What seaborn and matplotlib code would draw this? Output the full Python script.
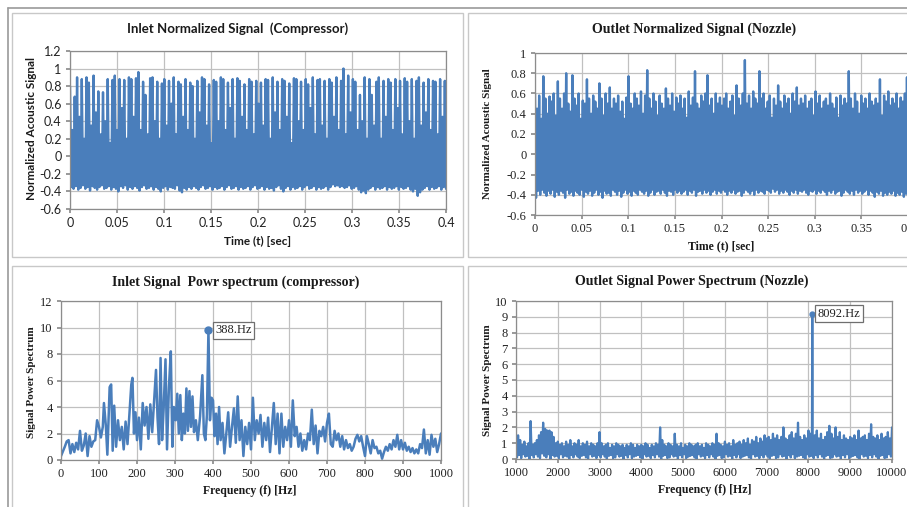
import numpy as np
import pandas as pd
import matplotlib
matplotlib.use("Agg")
import matplotlib.pyplot as plt
import seaborn as sns
from matplotlib.patches import Rectangle
from matplotlib.lines import Line2D
from matplotlib.ticker import FuncFormatter

# ---------------- data ----------------
# Inlet normalized signal: successive maxima / minima over 0..0.4 s
inlet_tops = [
    0.80, 0.30, 0.68, 0.90, 0.45, 0.88, 0.20, 0.90, 0.84, 0.35,
    0.92, 0.50, 0.74, 0.25, 0.73, 0.40, 0.88, 0.15, 0.87, 0.92,
    0.30, 0.88, 0.55, 0.87, 0.20, 0.90, 0.88, 0.45, 0.89, 0.96,
    0.30, 0.85, 0.70, 0.25, 0.89, 0.90, 0.40, 0.85, 0.20, 0.83,
    0.88, 0.35, 0.86, 0.60, 0.90, 0.25, 0.85, 0.82, 0.45, 0.88,
    0.30, 0.84, 0.80, 0.20, 0.86, 0.50, 0.90, 0.88, 0.35, 0.82,
    0.15, 0.87, 0.85, 0.40, 0.90, 0.88, 0.30, 0.84, 0.55, 0.88,
    0.20, 0.89, 0.86, 0.45, 0.82, 0.30, 0.88, 0.85, 0.25, 0.86,
    0.60, 0.84, 0.35, 0.88, 0.87, 0.20, 0.90, 0.50, 0.85, 0.30,
    0.88, 0.86, 0.45, 0.83, 0.15, 0.89, 0.88, 0.40, 0.85, 0.30,
    0.88, 0.82, 0.55, 0.90, 0.25, 0.87, 0.88, 0.35, 0.86, 0.20,
    0.88, 0.84, 0.45, 0.90, 0.30, 0.86, 1.00, 0.25, 0.92, 0.50,
    0.88, 0.85, 0.30, 0.70, 0.40, 0.90, 0.20, 0.88, 0.70, 0.35,
    0.85, 0.90, 0.20, 0.86, 0.45, 0.88, 0.84, 0.30, 0.88, 0.55,
    0.86, 0.25, 0.89, 0.85, 0.40, 0.88, 0.20, 0.86, 0.90, 0.35,
    0.84, 0.50, 0.88, 0.30, 0.86, 0.85, 0.25, 0.88, 0.45, 0.86,
]
inlet_bottoms = [
    -0.35, -0.37, -0.34, -0.38, -0.36, -0.33, -0.37, -0.35, -0.39, -0.34,
    -0.36, -0.38, -0.35, -0.33, -0.37, -0.36, -0.34, -0.38, -0.35, -0.37,
    -0.40, -0.34, -0.36, -0.33, -0.38, -0.35, -0.37, -0.34, -0.36, -0.39,
    -0.35, -0.33, -0.37, -0.36, -0.34, -0.38, -0.35, -0.37, -0.40, -0.36,
    -0.34, -0.38, -0.35, -0.36, -0.37, -0.33, -0.39, -0.41, -0.36, -0.38,
    -0.35, -0.37, -0.34, -0.36, -0.38, -0.35, -0.33, -0.37, -0.36, -0.34,
    -0.38, -0.35, -0.37, -0.36, -0.34, -0.38, -0.35, -0.33, -0.37, -0.36,
    -0.34, -0.38, -0.35, -0.37, -0.36, -0.34, -0.38, -0.35, -0.33, -0.37,
    -0.36, -0.34, -0.38, -0.35, -0.37, -0.36, -0.39, -0.35, -0.33, -0.37,
    -0.40, -0.36, -0.34, -0.38, -0.35, -0.37, -0.36, -0.34, -0.38, -0.35,
    -0.33, -0.37, -0.36, -0.34, -0.38, -0.35, -0.37, -0.36, -0.34, -0.38,
    -0.35, -0.32, -0.34, -0.33, -0.35, -0.34, -0.36, -0.35, -0.33, -0.37,
    -0.36, -0.34, -0.38, -0.41, -0.39, -0.42, -0.38, -0.36, -0.34, -0.38,
    -0.35, -0.37, -0.36, -0.34, -0.38, -0.35, -0.37, -0.36, -0.34, -0.38,
    -0.35, -0.37, -0.36, -0.34, -0.38, -0.40, -0.37, -0.45, -0.41, -0.38,
    -0.36, -0.34, -0.38, -0.35, -0.37, -0.36, -0.34, -0.38, -0.35, -0.37,
]

# Outlet normalized signal: successive maxima / minima over 0..0.4 s
outlet_tops = [
    0.60, 0.45, 0.58, 0.35, 0.77, 0.55, 0.40, 0.57, 0.52, 0.60,
    0.38, 0.72, 0.55, 0.45, 0.60, 0.80, 0.50, 0.42, 0.78, 0.55,
    0.48, 0.60, 0.35, 0.53, 0.50, 0.74, 0.55, 0.40, 0.58, 0.52,
    0.45, 0.70, 0.55, 0.38, 0.60, 0.50, 0.66, 0.45, 0.55, 0.50,
    0.58, 0.42, 0.52, 0.35, 0.56, 0.77, 0.50, 0.45, 0.60, 0.55,
    0.48, 0.62, 0.40, 0.58, 0.83, 0.55, 0.45, 0.60, 0.52, 0.38,
    0.58, 0.50, 0.45, 0.65, 0.55, 0.48, 0.60, 0.42, 0.56, 0.50,
    0.58, 0.45, 0.55, 0.36, 0.62, 0.48, 0.56, 0.82, 0.50, 0.45,
    0.58, 0.52, 0.60, 0.78, 0.48, 0.55, 0.40, 0.60, 0.50, 0.56,
    0.48, 0.55, 0.60, 0.45, 0.52, 0.58, 0.38, 0.68, 0.55, 0.48,
    0.60, 0.93, 0.50, 0.58, 0.45, 0.62, 0.55, 0.50, 0.82, 0.55,
    0.60, 0.45, 0.52, 0.58, 0.36, 0.55, 0.48, 0.68, 0.52, 0.45,
    0.58, 0.50, 0.55, 0.40, 0.60, 0.52, 0.66, 0.48, 0.55, 0.50,
    0.58, 0.45, 0.52, 0.55, 0.38, 0.62, 0.50, 0.58, 0.45, 0.52,
    0.55, 0.48, 0.60, 0.50, 0.45, 0.56, 0.36, 0.58, 0.48, 0.55,
    0.50, 0.82, 0.55, 0.45, 0.60, 0.52, 0.40, 0.58, 0.50, 0.55,
    0.45, 0.60, 0.52, 0.48, 0.55, 0.50, 0.74, 0.38, 0.58, 0.52,
    0.62, 0.48, 0.55, 0.50, 0.60, 0.45, 0.56, 0.52, 0.60, 0.76,
]
outlet_bottoms = [
    -0.43, -0.36, -0.40, -0.35, -0.38, -0.41, -0.36, -0.39, -0.35, -0.42,
    -0.37, -0.40, -0.36, -0.38, -0.43, -0.35, -0.39, -0.37, -0.41, -0.36,
    -0.38, -0.40, -0.35, -0.42, -0.37, -0.39, -0.36, -0.41, -0.38, -0.35,
    -0.40, -0.37, -0.43, -0.36, -0.39, -0.38, -0.41, -0.35, -0.37, -0.40,
    -0.36, -0.42, -0.38, -0.35, -0.39, -0.37, -0.41, -0.36, -0.38, -0.40,
    -0.35, -0.37, -0.39, -0.36, -0.41, -0.38, -0.35, -0.40, -0.37, -0.36,
    -0.39, -0.35, -0.38, -0.41, -0.36, -0.37, -0.40, -0.35, -0.38, -0.36,
    -0.39, -0.37, -0.35, -0.40, -0.36, -0.38, -0.35, -0.41, -0.37, -0.36,
    -0.39, -0.35, -0.38, -0.36, -0.40, -0.37, -0.35, -0.39, -0.36, -0.38,
    -0.35, -0.37, -0.40, -0.36, -0.38, -0.35, -0.39, -0.37, -0.36, -0.41,
    -0.38, -0.35, -0.37, -0.39, -0.36, -0.40, -0.35, -0.38, -0.36, -0.37,
    -0.39, -0.35, -0.36, -0.38, -0.34, -0.37, -0.35, -0.39, -0.36, -0.38,
    -0.35, -0.37, -0.40, -0.36, -0.38, -0.35, -0.39, -0.36, -0.37, -0.35,
    -0.38, -0.40, -0.36, -0.37, -0.35, -0.39, -0.36, -0.38, -0.35, -0.37,
    -0.40, -0.36, -0.38, -0.35, -0.39, -0.37, -0.36, -0.41, -0.38, -0.35,
    -0.37, -0.39, -0.36, -0.40, -0.35, -0.38, -0.36, -0.39, -0.37, -0.35,
    -0.40, -0.36, -0.38, -0.42, -0.37, -0.39, -0.36, -0.41, -0.38, -0.40,
    -0.37, -0.39, -0.36, -0.41, -0.38, -0.40, -0.37, -0.42, -0.39, -0.41,
]

# Inlet power spectrum (Hz, power)
inlet_freq = [
    0, 10, 15, 20, 25, 30, 35, 40, 45, 50, 55, 60, 65, 70, 75, 80, 85, 90, 95, 100,
    105, 110, 113, 118, 122, 128, 132, 136, 140, 145, 150, 155, 160, 165, 170, 175,
    180, 185, 188, 192, 196, 200, 205, 210, 215, 220, 225, 230, 235, 240, 245, 250,
    254, 258, 262, 266, 270, 275, 279, 284, 289, 293, 297, 302, 306, 310, 314, 318,
    322, 326, 330, 334, 338, 342, 346, 350, 355, 360, 366, 372, 376, 380, 384, 388,
    392, 396, 400, 404, 408, 412, 416, 420, 425, 430, 435, 440, 445, 450, 455, 460,
    465, 470, 475, 480, 485, 490, 495, 500, 505, 510, 515, 520, 525, 530, 535, 540,
    545, 550, 555, 560, 565, 570, 575, 580, 585, 590, 595, 600, 605, 610, 615, 620,
    625, 630, 635, 640, 645, 650, 655, 660, 665, 670, 675, 680, 685, 690, 695, 700,
    705, 710, 715, 720, 725, 730, 735, 740, 745, 750, 755, 760, 765, 770, 775, 780,
    785, 790, 795, 800, 805, 810, 815, 820, 825, 830, 835, 840, 845, 850, 855, 860,
    865, 870, 875, 880, 885, 890, 895, 900, 905, 910, 915, 920, 925, 930, 935, 940,
    945, 950, 955, 960, 965, 970, 975, 980, 985, 990, 995, 1000,
]
inlet_power = [
    0.3, 1.0, 1.4, 1.5, 0.5, 1.2, 0.6, 1.3, 0.8, 2.2, 0.7, 1.1, 2.0, 0.3, 1.8, 1.0, 1.4, 1.5, 3.0, 2.5,
    1.7, 2.5, 4.3, 2.6, 0.4, 5.5, 5.7, 0.7, 4.1, 1.0, 3.0, 1.5, 2.5, 0.8, 2.9, 1.2,
    3.4, 5.7, 6.2, 2.0, 3.6, 1.5, 3.2, 0.8, 4.3, 2.6, 4.0, 1.6, 4.2, 2.1, 4.5, 6.8,
    3.2, 1.2, 7.7, 1.5, 3.8, 7.6, 0.8, 5.5, 8.2, 1.0, 4.0, 3.0, 5.0, 2.0, 4.9, 1.5,
    3.5, 2.0, 5.4, 2.2, 5.2, 2.5, 4.8, 2.1, 3.0, 1.5, 3.3, 6.4, 2.0, 1.5, 3.4, 9.8,
    3.0, 4.7, 4.5, 1.8, 3.5, 1.2, 4.0, 1.5, 2.8, 0.5, 2.0, 3.6, 1.0, 2.5, 3.9, 1.3,
    4.8, 1.5, 3.0, 0.3, 2.5, 1.2, 2.8, 0.8, 4.7, 1.5, 3.0, 2.0, 3.4, 1.0, 2.8, 1.5,
    3.2, 0.6, 2.5, 4.3, 1.2, 3.5, 0.5, 3.5, 1.0, 2.5, 1.5, 3.0, 1.0, 4.5, 1.8, 2.5,
    1.0, 2.0, 0.7, 1.5, 0.8, 2.0, 1.5, 3.8, 1.2, 2.6, 0.5, 2.2, 1.8, 2.5, 1.4, 2.8,
    3.5, 1.2, 1.0, 2.2, 1.5, 2.0, 1.0, 1.8, 0.8, 1.5, 0.9, 1.2, 0.7, 1.0, 1.6, 1.9,
    1.4, 1.8, 1.0, 0.3, 1.8, 1.2, 0.5, 1.5, 0.9, 1.0, 0.5, 0.7, 0.1, 0.6, 1.0, 0.7,
    1.2, 0.8, 1.5, 1.0, 1.9, 0.8, 1.5, 0.8, 1.3, 0.7, 1.0, 0.6, 0.9, 0.5, 0.8, 0.5,
    1.2, 0.9, 2.3, 0.5, 1.5, 0.4, 1.9, 1.0, 1.6, 0.6, 1.2, 2.0,
]
inlet_peak_freq, inlet_peak_power = 388, 9.8

# Outlet power spectrum: maxima on a 50 Hz grid from 1000 Hz, minima in between
outlet_spec_start, outlet_spec_step = 1000, 50
outlet_highs = [
    1.0, 1.5, 1.2, 0.9, 1.1, 0.8, 1.0, 2.4, 0.9, 1.0, 1.2,
    1.5, 1.7, 2.3, 1.9, 1.8, 1.8, 1.7, 1.4, 1.0,
    1.1, 0.9, 1.0, 0.8, 1.1, 0.9, 1.2, 0.8, 1.0, 0.9, 1.2, 0.8, 1.0, 0.9, 1.1, 0.8, 1.0, 0.9, 0.8, 1.0,
    1.7,
    1.0, 0.8, 0.9, 1.0, 0.7, 0.9, 0.8, 1.0, 0.9, 0.8, 0.9, 0.7, 0.9, 0.8, 1.0, 0.9, 0.7, 0.9, 0.8,
    0.9, 0.8, 1.0, 0.9, 0.7, 0.9, 0.8, 1.0, 0.9, 2.0,
    1.2, 0.9, 0.8, 1.0, 0.9, 0.8, 1.6,
    0.9, 0.8, 1.0, 0.7, 0.9, 0.8, 1.0, 0.9, 0.8, 0.9, 1.0, 0.8, 0.9, 0.7, 1.0, 0.9, 0.8, 1.0, 0.9,
    1.6,
    1.0, 0.9, 0.8, 1.1, 0.9, 1.0, 0.8, 1.2, 0.9, 1.0, 1.1, 0.9, 1.2, 1.0, 1.3, 0.9, 1.2, 1.1, 1.4, 1.0, 1.3, 1.1, 1.5,
    1.3, 1.4, 1.2, 1.6, 1.3, 1.5, 1.2, 1.4, 2.0, 1.3, 1.2, 1.5, 1.7, 1.3, 1.6, 2.3, 1.4, 1.2, 1.5, 1.3, 1.8, 1.6,
    2.1, 1.5, 1.8, 1.3, 1.6, 1.2, 1.4, 1.7,
    2.1, 1.6, 1.3, 2.0, 1.4, 1.7, 1.2, 1.5, 1.3, 1.2, 1.4, 1.3, 1.5, 1.2, 1.8, 1.3, 1.4, 1.5, 1.2, 1.6,
    2.2, 1.4, 1.3, 1.5, 1.2, 1.6, 1.3, 1.4, 1.7, 1.3, 2.0,
]
outlet_lows = [
    0.10, 0.25, 0.05, 0.30, 0.15, 0.20, 0.00, 0.25, 0.10, 0.30,
    0.15, 0.05, 0.35, 0.20, 0.10, 0.30, 0.00, 0.25, 0.15, 0.20,
    0.05, 0.30, 0.10, 0.20, 0.15, 0.00, 0.25, 0.10, 0.30, 0.15,
    0.05, 0.20, 0.25, 0.10, 0.00, 0.30, 0.15, 0.20, 0.05, 0.25,
    0.10, 0.30, 0.15, 0.00, 0.20, 0.25, 0.05, 0.10, 0.30, 0.15,
    0.20, 0.00, 0.25, 0.10, 0.30, 0.05, 0.15, 0.20, 0.25, 0.10,
    0.00, 0.30, 0.15, 0.20, 0.05, 0.25, 0.10, 0.30, 0.15, 0.00,
    0.20, 0.25, 0.05, 0.10, 0.30, 0.15, 0.20, 0.00, 0.25, 0.10,
    0.30, 0.05, 0.15, 0.20, 0.25, 0.10, 0.00, 0.30, 0.15, 0.20,
    0.05, 0.25, 0.10, 0.30, 0.15, 0.00, 0.20, 0.25, 0.05, 0.10,
    0.30, 0.15, 0.20, 0.00, 0.25, 0.10, 0.30, 0.05, 0.15, 0.20,
    0.25, 0.10, 0.00, 0.30, 0.15, 0.20, 0.05, 0.25, 0.10, 0.30,
    0.15, 0.00, 0.20, 0.25, 0.05, 0.10, 0.30, 0.15, 0.20, 0.00,
    0.25, 0.10, 0.30, 0.05, 0.15, 0.20, 0.25, 0.10, 0.00, 0.30,
    0.15, 0.20, 0.05, 0.25, 0.10, 0.30, 0.15, 0.00, 0.20, 0.25,
    0.05, 0.10, 0.30, 0.15, 0.20, 0.00, 0.25, 0.10, 0.30, 0.05,
    0.15, 0.20, 0.25, 0.10, 0.00, 0.30, 0.15, 0.20, 0.05, 0.25,
    0.10, 0.30, 0.15, 0.00, 0.20, 0.25, 0.05, 0.10, 0.30, 0.15,
]
outlet_peak_freq, outlet_peak_power = 8092, 9.2

# ---------------- build frames ----------------
def interleave(tops, bottoms, t0, t1):
    vals = []
    for a, b in zip(tops, bottoms):
        vals.extend([a, b])
    t = np.linspace(t0, t1, len(vals))
    return pd.DataFrame({"x": t, "y": vals})

df_in = interleave(inlet_tops, inlet_bottoms, 0.0, 0.4)
df_out = interleave(outlet_tops, outlet_bottoms, 0.0, 0.4)
df_in_spec = pd.DataFrame({"x": inlet_freq, "y": inlet_power})

hi_f = outlet_spec_start + outlet_spec_step * np.arange(len(outlet_highs))
lo_f = outlet_spec_start + outlet_spec_step * (np.arange(len(outlet_lows)) + 0.5)
df_out_spec = pd.concat([
    pd.DataFrame({"x": hi_f, "y": outlet_highs}),
    pd.DataFrame({"x": lo_f, "y": outlet_lows}),
    pd.DataFrame({"x": [outlet_peak_freq - 10, outlet_peak_freq, outlet_peak_freq + 10],
                  "y": [0.4, outlet_peak_power, 0.5]}),
]).sort_values("x").reset_index(drop=True)

# ---------------- figure ----------------
sns.set_theme(style="white")
W, H = 907, 507
fig = plt.figure(figsize=(W / 100, H / 100), dpi=100)
fig.patch.set_facecolor("white")

BLUE = "#4a7ebb"
GRID = "#c0c0c0"
SANS = ["Lato", "DejaVu Sans"]
SERIF = ["Liberation Serif", "DejaVu Serif"]


def px_axes(l, r, t, b):
    return fig.add_axes([l / W, 1 - b / H, (r - l) / W, (b - t) / H])


def fx(x):
    return x / W


def fy(y):
    return 1 - y / H


# frames / borders
fig.add_artist(Line2D([fx(8), fx(907)], [fy(8), fy(8)], color="#9a9a9a", lw=1.2))
fig.add_artist(Line2D([fx(8), fx(8)], [fy(8), fy(507)], color="#9a9a9a", lw=1.2))
for (x0, y0, x1, y1) in [(12, 13, 463, 257), (468, 13, 915, 257),
                         (12, 266, 463, 515), (468, 266, 915, 515)]:
    fig.add_artist(Rectangle((fx(x0), fy(y1)), (x1 - x0) / W, (y1 - y0) / H,
                             transform=fig.transFigure, fill=False,
                             edgecolor="#c8c8c8", lw=1.0))


def style_axes(ax, fam, xt, yt, xlim, ylim, fs=8.5):
    ax.set_xlim(*xlim)
    ax.set_ylim(*ylim)
    ax.set_xticks(xt)
    ax.set_yticks(yt)
    fmt = FuncFormatter(lambda v, p: ("%g" % round(v, 4)))
    ax.xaxis.set_major_formatter(fmt)
    ax.yaxis.set_major_formatter(fmt)
    ax.grid(True, color=GRID, lw=0.9)
    ax.set_axisbelow(True)
    for s in ax.spines.values():
        s.set_color("#8c8c8c")
        s.set_linewidth(0.9)
    ax.tick_params(axis="both", which="both", direction="out", length=3,
                   color="#8c8c8c", labelsize=fs, pad=3,
                   bottom=True, left=True, labelcolor="#222222")
    for lab in ax.get_xticklabels() + ax.get_yticklabels():
        lab.set_family(fam)
    ax.set_xlabel("")
    ax.set_ylabel("")


def ftext(x, y, s, fam, size, rot=0):
    fig.text(fx(x), fy(y), s, family=fam, fontsize=size, fontweight="bold",
             ha="center", va="center", rotation=rot, color="#1a1a1a")


# --- top-left ---
ax1 = px_axes(70, 446, 51, 209)
sns.lineplot(data=df_in, x="x", y="y", ax=ax1, color=BLUE, lw=1.7,
             estimator=None, sort=False)
style_axes(ax1, SANS, np.arange(0, 0.401, 0.05), np.arange(-0.6, 1.21, 0.2),
           (0, 0.4), (-0.6, 1.2), fs=9)
ftext(238, 29, "Inlet Normalized Signal  (Compressor)", SANS, 9.5)
ftext(258, 241, "Time (t) [sec]", SANS, 8.5)
ftext(32, 129, "Normalized Acoustic Signal", SANS, 8.5, rot=90)

# --- top-right ---
ax2 = px_axes(535, 908, 53, 215)
sns.lineplot(data=df_out, x="x", y="y", ax=ax2, color=BLUE, lw=1.7,
             estimator=None, sort=False)
style_axes(ax2, SERIF, np.arange(0, 0.401, 0.05), np.arange(-0.6, 1.01, 0.2),
           (0, 0.4), (-0.6, 1.0), fs=9)
ftext(694, 29, "Outlet Normalized Signal (Nozzle)", SERIF, 10)
ftext(721, 246, "Time (t) [sec]", SERIF, 8.5)
ftext(487, 134, "Normalized Acoustic Signal", SERIF, 8.0, rot=90)

# --- bottom-left ---
ax3 = px_axes(61, 441, 301, 460)
sns.lineplot(data=df_in_spec, x="x", y="y", ax=ax3, color=BLUE, lw=1.8,
             estimator=None, sort=False)
style_axes(ax3, SERIF, np.arange(0, 1001, 100), np.arange(0, 12.1, 2),
           (0, 1000), (0, 12), fs=9)
ax3.plot([inlet_peak_freq], [inlet_peak_power], "o", color=BLUE, ms=5)
ax3.annotate(f"{inlet_peak_freq}.Hz", (inlet_peak_freq, inlet_peak_power),
             xytext=(5, 0), textcoords="offset points", ha="left", va="center",
             family=SERIF, fontsize=9, color="#222222",
             bbox=dict(boxstyle="square,pad=0.2", fc="white", ec="#6f6f6f", lw=0.9))
ftext(236, 282, "Inlet Signal  Powr spectrum (compressor)", SERIF, 10)
ftext(250, 491, "Frequency (f) [Hz]", SERIF, 8.5)
ftext(32, 382, "Signal Power Spectrum", SERIF, 8.0, rot=90)

# --- bottom-right ---
ax4 = px_axes(516, 892, 301, 459)
sns.lineplot(data=df_out_spec, x="x", y="y", ax=ax4, color=BLUE, lw=1.6,
             estimator=None, sort=False)
style_axes(ax4, SERIF, np.arange(1000, 10001, 1000), np.arange(0, 10.1, 1),
           (1000, 10000), (0, 10), fs=9)
ax4.plot([outlet_peak_freq], [outlet_peak_power], "o", color=BLUE, ms=3.5)
ax4.annotate(f"{outlet_peak_freq}.Hz", (outlet_peak_freq, outlet_peak_power),
             xytext=(4, 0), textcoords="offset points", ha="left", va="center",
             family=SERIF, fontsize=9, color="#222222",
             bbox=dict(boxstyle="square,pad=0.2", fc="white", ec="#6f6f6f", lw=0.9))
ftext(692, 281, "Outlet Signal Power Spectrum (Nozzle)", SERIF, 10)
ftext(705, 490, "Frequency (f) [Hz]", SERIF, 8.5)
ftext(487, 380, "Signal Power Spectrum", SERIF, 8.0, rot=90)

fig.savefig("out.png", dpi=100, facecolor="white")
